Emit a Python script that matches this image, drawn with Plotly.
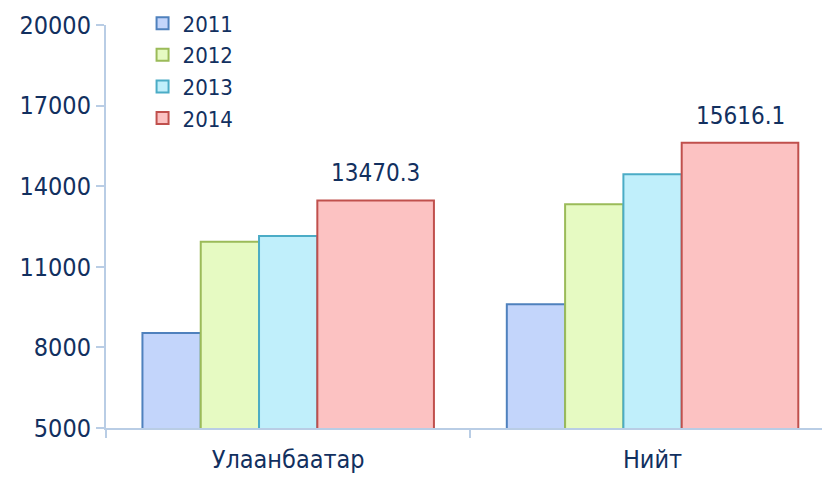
import plotly.graph_objects as go

categories = ["Улаанбаатар", "Нийт"]
years = ["2011", "2012", "2013", "2014"]
values_2011 = [8536, 9604]
values_2012 = [11934, 13326]
values_2013 = [12146, 14443]
values_2014 = [13470.3, 15616.1]
series = [values_2011, values_2012, values_2013, values_2014]

fill_colors = ["#c3d5fb", "#e6fac2", "#c0effb", "#fcc2c2"]
line_colors = ["#4f81bd", "#9bbb59", "#4bacc6", "#c0504d"]
offsets = [-0.40, -0.24, -0.08, 0.08]
widths = [0.16, 0.16, 0.16, 0.32]

FONT = "DejaVu Sans Condensed, Liberation Sans, sans-serif"
TXT = "#12305f"
AX = "#b9cde5"

xpos = list(range(len(categories)))

fig = go.Figure()
for name, vals, fc, lc, off, w in zip(years, series, fill_colors, line_colors, offsets, widths):
    fig.add_trace(go.Bar(
        x=xpos, y=vals, name=name,
        offset=off, width=w,
        marker=dict(color=fc, line=dict(color=lc, width=2)),
    ))

for xi, v in zip(xpos, values_2014):
    fig.add_annotation(
        x=xi + offsets[3] + widths[3] / 2, y=v, xref="x", yref="y",
        text=f"{v:.1f}", showarrow=False, yanchor="bottom", yshift=11,
        font=dict(family=FONT, size=24, color=TXT),
    )

fig.update_layout(
    width=822, height=469,
    margin=dict(l=98, r=0, t=17, b=49, autoexpand=False),
    paper_bgcolor="white", plot_bgcolor="white",
    barmode="overlay",
    font=dict(family=FONT, color=TXT),
    legend=dict(
        x=0.0505, y=1.056, xanchor="left", yanchor="top",
        font=dict(family=FONT, size=22, color=TXT),
        tracegroupgap=0, itemwidth=30, bgcolor="rgba(0,0,0,0)",
    ),
    xaxis=dict(
        range=[-0.5, 1.487],
        tickmode="array", tickvals=xpos, ticktext=categories,
        ticks="", showgrid=False, zeroline=False,
        showline=True, linecolor=AX, linewidth=2,
        tickfont=dict(family=FONT, size=25, color=TXT),
        ticklabelstandoff=8,
        minor=dict(tickmode="array", tickvals=[-0.5, 0.5, 1.5],
                   ticks="outside", ticklen=8, tickcolor=AX, tickwidth=2),
    ),
    yaxis=dict(
        range=[5000, 20000],
        tickmode="array", tickvals=[5000, 8000, 11000, 14000, 17000, 20000],
        ticks="outside", ticklen=8, tickcolor=AX, tickwidth=2,
        showline=True, linecolor=AX, linewidth=2,
        showgrid=False, zeroline=False,
        tickfont=dict(family=FONT, size=25, color=TXT),
        tickformat="d",
    ),
)

fig.write_html("out.html")
